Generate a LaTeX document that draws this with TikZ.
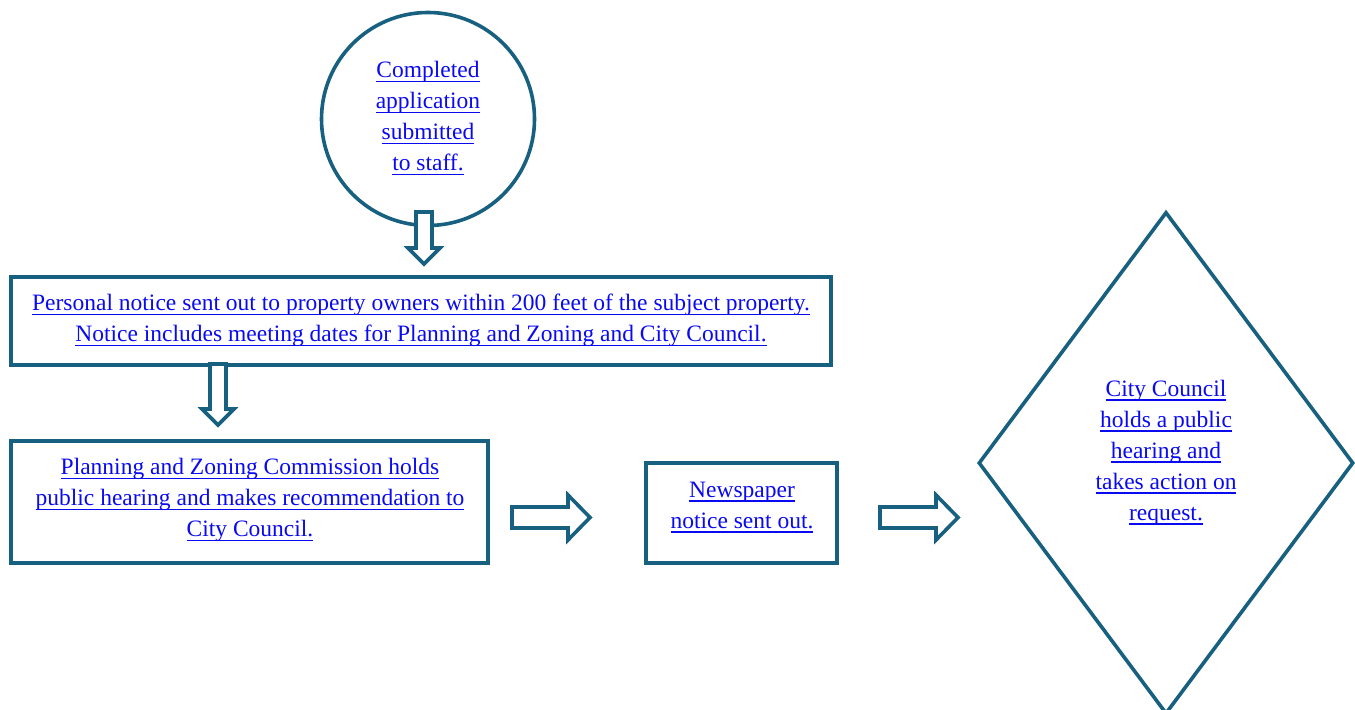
\documentclass[tikz,border=0pt]{standalone}
\usepackage{fontspec}
\setmainfont{Liberation Serif}
\usetikzlibrary{shapes.geometric,calc}

\definecolor{teal}{RGB}{24,96,128}
\definecolor{linkblue}{RGB}{10,10,240}
\newcommand{\lnk}[1]{\textcolor{linkblue}{\setbox0\hbox{#1}\rlap{\rule[-2.2pt]{\wd0}{0.75pt}}\box0}}

\tikzset{
  shp/.style={draw=teal, line width=1.8pt, inner sep=0pt},
  txt/.style={align=center, inner sep=0pt, font=\fontsize{11.75}{15.5}\selectfont},
  blk/.style={draw=teal, line width=1.8pt, fill=white, line join=miter}
}

\begin{document}
\begin{tikzpicture}[x=0.5pt,y=-0.5pt]
  \useasboundingbox (0,0) rectangle (1355,710);
  \clip (0,0) rectangle (1355,710);

  % shapes
  \node[shp, circle, minimum size=106.5pt] (start) at (428,119) {};
  \node[shp, rectangle, minimum width=410pt, minimum height=44pt] (notice) at (421,321) {};
  \node[shp, rectangle, minimum width=238.5pt, minimum height=61pt] (pz) at (249.5,502) {};
  \node[shp, rectangle, minimum width=95.5pt, minimum height=50pt] (news) at (741.5,513) {};
  \node[shp, diamond, minimum width=187.5pt, minimum height=251pt] (council) at (1166,463) {};

  % texts
  \node[txt] (startT) at (428,118.5) {\lnk{Completed}\\\lnk{application}\\\lnk{submitted}\\\lnk{to staff.}};
  \node[txt] (noticeT) at (421,320.5) {\lnk{Personal notice sent out to property owners within 200 feet of the subject property.}\\
    \lnk{Notice includes meeting dates for Planning and Zoning and City Council.}};
  \node[txt] (pzT) at (250,500) {\lnk{Planning and Zoning Commission holds}\\\lnk{public hearing and makes recommendation to}\\\lnk{City Council.}};
  \node[txt] (newsT) at (742,507.5) {\lnk{Newspaper}\\\lnk{notice sent out.}};
  \node[txt] (councilT) at (1166,452.5) {\lnk{City Council}\\\lnk{holds a public}\\\lnk{hearing and}\\\lnk{takes action on}\\\lnk{request.}};

  % block arrows, down
  \foreach \cx/\ya/\yb in {424/212/264, 218/364/425} {
    \draw[blk] (\cx-8,\ya) -- (\cx+8,\ya) -- (\cx+8,\yb-16) -- (\cx+16,\yb-16) -- (\cx,\yb)
      -- (\cx-16,\yb-16) -- (\cx-8,\yb-16) -- cycle;
  }
  % block arrows, right
  \foreach \xa/\xb in {512/590, 880/958} {
    \draw[blk] (\xa,507) -- (\xb-22,507) -- (\xb-22,495) -- (\xb,517.5) -- (\xb-22,540)
      -- (\xb-22,528) -- (\xa,528) -- cycle;
  }
\end{tikzpicture}
\end{document}
